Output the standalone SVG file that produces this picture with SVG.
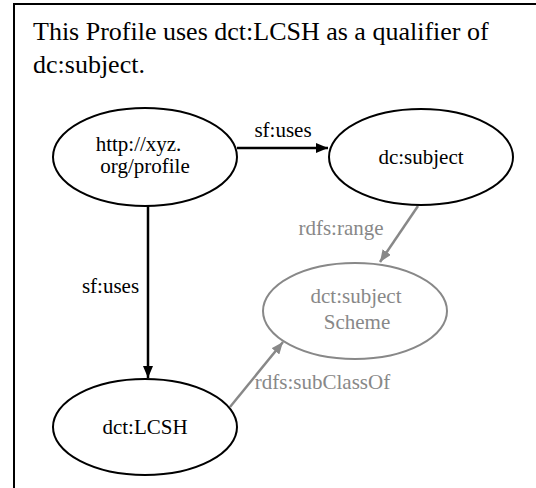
<svg xmlns="http://www.w3.org/2000/svg" width="536" height="488" viewBox="0 0 536 488">
<style>
text{font-family:"Liberation Serif","Times New Roman",serif;font-size:21px;text-anchor:middle;fill:#000}
.g{fill:#888}
.title{font-size:26px;text-anchor:start}
.n{fill:#fff;stroke:#000;stroke-width:2}
.ng{fill:#fff;stroke:#888;stroke-width:2}
.e{stroke:#000;stroke-width:2.5;fill:none}
.eg{stroke:#888;stroke-width:2.5;fill:none}
</style>
<defs>
<marker id="ab" markerUnits="userSpaceOnUse" viewBox="0 0 12 10" markerWidth="12" markerHeight="10" refX="12" refY="5" orient="auto"><path d="M0,0 L12,5 L0,10 z" fill="#000"/></marker>
<marker id="ag" markerUnits="userSpaceOnUse" viewBox="0 0 12 10" markerWidth="12" markerHeight="10" refX="12" refY="5" orient="auto"><path d="M0,0 L12,5 L0,10 z" fill="#888"/></marker>
</defs>
<rect x="14" y="4" width="540" height="500" fill="#fff" stroke="#000" stroke-width="2"/>
<text class="title" x="33" y="40">This Profile uses dct:LCSH as a qualifier of</text>
<text class="title" x="33" y="73">dc:subject.</text>
<g id="connectors">
<line class="e" x1="237" y1="148" x2="328" y2="148" marker-end="url(#ab)"/>
<text x="283" y="137">sf:uses</text>
<line class="e" x1="148" y1="206" x2="148" y2="378" marker-end="url(#ab)"/>
<text x="110.5" y="293">sf:uses</text>
<line class="eg" x1="418" y1="206" x2="380" y2="262" marker-end="url(#ag)"/>
<text class="g" x="341" y="235">rdfs:range</text>
<line class="eg" x1="230" y1="407" x2="283" y2="342" marker-end="url(#ag)"/>
<text class="g" x="322.5" y="389">rdfs:subClassOf</text>
</g>
<g id="profile">
<ellipse class="n" cx="145" cy="157" rx="92" ry="49"/>
<text x="138.5" y="151">http://xyz.</text>
<text x="145" y="173">org/profile</text>
</g>
<g id="subject">
<ellipse class="n" cx="421" cy="157" rx="92" ry="48"/>
<text x="421" y="164">dc:subject</text>
</g>
<g id="scheme">
<ellipse class="ng" cx="355" cy="311" rx="92" ry="48"/>
<text class="g" x="356" y="303">dct:subject</text>
<text class="g" x="357" y="329">Scheme</text>
</g>
<g id="lcsh">
<ellipse class="n" cx="145" cy="427" rx="92" ry="48"/>
<text x="145" y="434">dct:LCSH</text>
</g>
</svg>
